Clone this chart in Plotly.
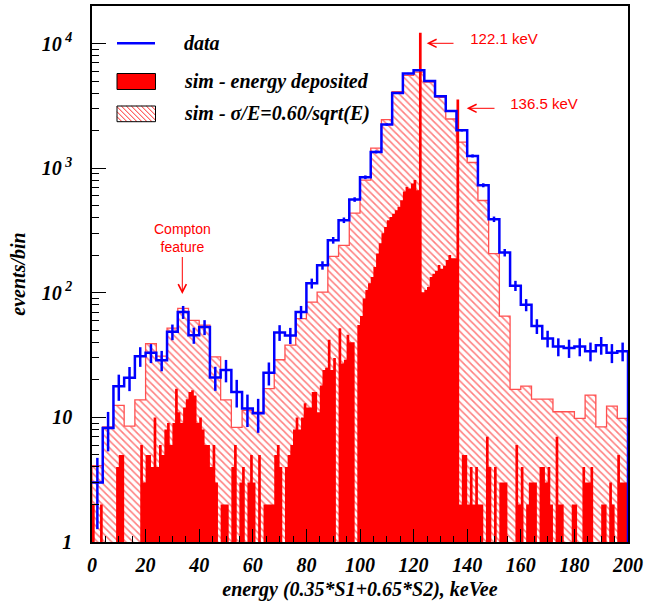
import numpy as np
import plotly.graph_objects as go

# ---------------- data ----------------
# data histogram: 4 keV bins from 0 to 200 keVee
data_counts = [3.0, 8.2, 17.8, 20.8, 31, 33, 28.8, 48.6, 70, 45.7,
               53, 20.9, 24, 16, 11.8, 10.8, 22.8, 48, 45.5, 70,
               119, 166, 264, 382, 560, 845, 1349, 2236, 4010, 5735,
               6100, 5000, 3773, 2875, 2014, 1253, 729, 389, 210, 114,
               80, 54, 43, 37, 36, 37, 34, 38, 33, 34]

# simulation smeared with sigma/E = 0.60/sqrt(E): same 4 keV bins
sim_smeared = [4.1, 8.4, 12.5, 8.5, 13.8, 39, 31, 52, 75, 60,
               55, 30.6, 13.8, 8.3, 11.4, 11, 17, 29, 38, 62,
               84, 101, 196, 240, 436, 800, 1445, 2450, 4100, 5550,
               5900, 4900, 3700, 2480, 1620, 1110, 550, 206, 65, 16.8,
               17.8, 14, 14, 11.1, 11.1, 9.8, 15.1, 8.4, 12.3, 9.8]

# simulation, energy deposited: 1 keV bins from 0 to 200
sim_edep = [2, 0, 0, 2, 0, 0, 0, 0, 0, 4,
            5, 5, 0, 0, 0, 0, 0, 0, 6, 3,
            5, 5, 4, 10, 4, 6, 5, 8, 9, 6,
            9, 17, 11, 9, 12, 14, 16, 16.5, 15, 9,
            10, 8, 6, 6, 4, 6, 3, 0, 2, 2,
            2, 0, 4, 6, 0, 3, 4, 0, 3, 5,
            3, 0, 5, 0, 2, 2, 2, 2, 5, 6,
            4, 0, 4, 5, 6, 8, 10, 8, 10, 13,
            12, 12, 16, 16, 11, 18, 24, 25, 42, 24,
            30, 0, 52, 27, 29, 46, 40, 40, 0, 55,
            65, 90, 105, 119, 134, 161, 207, 250, 300, 337,
            381, 405, 431, 460, 488, 552, 650, 707, 686, 754,
            802, 665, 12200, 101, 105, 111, 134, 142, 150, 167,
            156, 165, 183, 201, 189, 189, 3550, 2, 5, 5,
            2, 4, 2, 4, 2, 2, 0, 7, 4, 0,
            4, 0, 3, 3, 3, 0, 0, 0, 6, 2,
            4, 0, 2, 3, 3, 3, 0, 4, 4, 3,
            4, 2, 0, 7, 2, 2, 0, 0, 0, 2,
            2, 0, 0, 4, 3, 3, 4, 0, 0, 0,
            2, 2, 0, 3, 2, 0, 5, 3, 3, 3]

coarse_edges = np.arange(0, 201, 4)
fine_edges = np.arange(0, 201, 1)

x_tick_vals = list(range(0, 201, 20))
y_tick_vals = [1, 10, 100, 1000, 10000]
y_tick_text = ["1", "10", "10<sup> 2</sup>", "10<sup> 3</sup>", "10<sup> 4</sup>"]

legend_labels = ["data", "sim - energy deposited", "sim - \u03c3/E=0.60/sqrt(E)"]
x_title = "energy (0.35*S1+0.65*S2), keVee"
y_title = "events/bin"

# ---------------- geometry helpers (layout only) ----------------
W, H = 670, 601
L, R, T, B = 92, 42, 6, 59
PW, PH = W - L - R, H - T - B


def paper(px, py):
    return (px - L) / PW, (H - B - py) / PH


SERIF = "Liberation Serif"
SANS = "Liberation Sans"
BOTTOM = 0.3  # below the log axis range: used to close step outlines


def step_polygon(edges, values):
    xs, ys = [edges[0]], [BOTTOM]
    for i, v in enumerate(values):
        h = v if v > 0 else BOTTOM
        xs += [edges[i], edges[i + 1]]
        ys += [h, h]
    xs.append(edges[-1])
    ys.append(BOTTOM)
    return xs, ys


fig = go.Figure()

# hatched smeared simulation (step outline filled with hatch pattern)
hx, hy = step_polygon(coarse_edges, sim_smeared)
fig.add_trace(go.Scatter(
    x=hx, y=hy, mode="lines", fill="toself", fillcolor="white",
    fillpattern=dict(shape="\\", fgcolor="rgb(255,0,0)", bgcolor="white",
                     size=5, solidity=0.32),
    line=dict(color="rgb(255,80,80)", width=1.3),
    hoverinfo="skip", showlegend=False))

# solid energy-deposited simulation (filled step histogram)
sx, sy = step_polygon(fine_edges, sim_edep)
fig.add_trace(go.Scatter(
    x=sx, y=sy, mode="lines", fill="toself", fillcolor="rgb(255,0,0)",
    line=dict(color="rgb(255,0,0)", width=0),
    hoverinfo="skip", showlegend=False))

# data step line
dx, dy = [], []
for i, v in enumerate(data_counts):
    dx += [coarse_edges[i], coarse_edges[i + 1]]
    dy += [v, v]
dx.append(coarse_edges[-1])
dy.append(BOTTOM)
fig.add_trace(go.Scatter(x=dx, y=dy, mode="lines",
                         line=dict(color="rgb(0,0,255)", width=2.5),
                         hoverinfo="skip", showlegend=False))

# data error bars
centers_coarse = (coarse_edges[:-1] + coarse_edges[1:]) / 2
fig.add_trace(go.Scatter(
    x=centers_coarse, y=data_counts, mode="markers",
    marker=dict(size=0.1, color="rgb(0,0,255)"),
    error_y=dict(type="data", array=np.sqrt(data_counts), color="rgb(0,0,255)",
                 thickness=2.5, width=0),
    hoverinfo="skip", showlegend=False))

# ---------------- manual legend ----------------
shapes = []
annotations = []
leg_font = dict(family=SERIF, size=20, color="black", weight="bold", style="italic")

# data line sample
x0p, y0p = paper(117, 43.3)
x1p, _ = paper(155, 43.3)
shapes.append(dict(type="line", xref="paper", yref="paper", x0=x0p, x1=x1p,
                   y0=y0p, y1=y0p, line=dict(color="rgb(0,0,255)", width=2.5)))
# red filled box
bx0, by0 = paper(117, 73.5)
bx1, by1 = paper(155.5, 89.5)
shapes.append(dict(type="rect", xref="paper", yref="paper", x0=bx0, x1=bx1,
                   y0=by1, y1=by0, fillcolor="rgb(255,0,0)",
                   line=dict(color="black", width=1)))
# hatched box
rx0, ry0, rx1, ry1 = 117, 106, 155.5, 121.7
for c in np.arange(rx0 - ry1, rx1 - ry0, 5.0):
    xa = max(rx0, c + ry0)
    xb = min(rx1, c + ry1)
    if xb - xa < 0.5:
        continue
    pa = paper(xa, xa - c)
    pb = paper(xb, xb - c)
    shapes.append(dict(type="line", xref="paper", yref="paper",
                       x0=pa[0], y0=pa[1], x1=pb[0], y1=pb[1],
                       line=dict(color="rgb(255,40,40)", width=1)))
hx0, hy0 = paper(rx0, ry0)
hx1, hy1 = paper(rx1, ry1)
shapes.append(dict(type="rect", xref="paper", yref="paper", x0=hx0, x1=hx1,
                   y0=hy1, y1=hy0, line=dict(color="black", width=1)))

for label, py in zip(legend_labels, [43.3, 81.5, 113.5]):
    xp, yp = paper(182, py)
    annotations.append(dict(text=label, xref="paper", yref="paper", x=xp, y=yp,
                            xanchor="left", yanchor="middle", showarrow=False,
                            font=leg_font))

# ---------------- red labels with arrows ----------------
red_font = dict(family=SANS, size=15, color="rgb(255,0,0)")
# (text, arrow head px, text left px, arrow tail px)
for txt, (hxp, hyp), tleft, tail in [("122.1 keV", (426.7, 43.3), 469, 453),
                                     ("136.5 keV", (466.7, 108.3), 509, 494)]:
    xp, yp = paper(hxp, hyp)
    half_w = 35
    annotations.append(dict(text=txt, xref="paper", yref="paper", x=xp, y=yp,
                            showarrow=True, ax=tleft + half_w - hxp, ay=0,
                            height=27, valign="top", width=2 * half_w,
                            startstandoff=tleft - tail - 2,
                            arrowhead=5, arrowsize=1.6, arrowwidth=1,
                            arrowcolor="rgb(255,0,0)", font=red_font))
# Compton feature
xp, yp = paper(182.3, 294)
annotations.append(dict(text="Compton<br>feature", xref="paper", yref="paper",
                        x=xp, y=yp, showarrow=True, ax=0, ay=237.5 - 294,
                        startstandoff=1, arrowhead=5, arrowsize=1.6, arrowwidth=1,
                        arrowcolor="rgb(255,0,0)",
                        font=dict(family=SANS, size=14, color="rgb(255,0,0)")))

tick_font = dict(family=SERIF, size=20, color="black", weight="bold", style="italic")
minor_y = [k * 10 ** n for n in range(0, 5) for k in range(2, 10) if k * 10 ** n < 2e4]

fig.update_layout(
    width=W, height=H,
    margin=dict(l=L, r=R, t=T, b=B, autoexpand=False),
    paper_bgcolor="white", plot_bgcolor="white",
    showlegend=False,
    shapes=shapes, annotations=annotations,
    xaxis=dict(range=[0, 200], tickvals=x_tick_vals, ticks="inside", ticklen=13,
               tickwidth=1.3, tickcolor="black", showline=True, linecolor="black",
               linewidth=1.5, mirror=True, showgrid=False, zeroline=False,
               tickfont=tick_font, ticklabelstandoff=4, automargin=False,
               minor=dict(ticks="inside", ticklen=6, dtick=5, tickcolor="black",
                          tickwidth=1, showgrid=False),
               title=dict(text=x_title, font=tick_font, standoff=12)),
    yaxis=dict(type="log", range=[0, np.log10(2e4)], tickmode="array",
               tickvals=y_tick_vals, ticktext=y_tick_text, ticks="inside",
               ticklen=14, tickwidth=1.3, tickcolor="black", showline=True,
               linecolor="black", linewidth=1.5, mirror=True, showgrid=False,
               zeroline=False, tickfont=tick_font, ticklabelstandoff=14,
               automargin=False,
               minor=dict(ticks="inside", ticklen=7, tickmode="array",
                          tickvals=minor_y, tickcolor="black", tickwidth=1,
                          showgrid=False),
               title=dict(text=y_title, font=tick_font, standoff=11)),
)

fig.write_html("out.html",
               config={"displayModeBar": False},
               post_script="document.body.style.margin='0';document.body.style.padding='0';")
